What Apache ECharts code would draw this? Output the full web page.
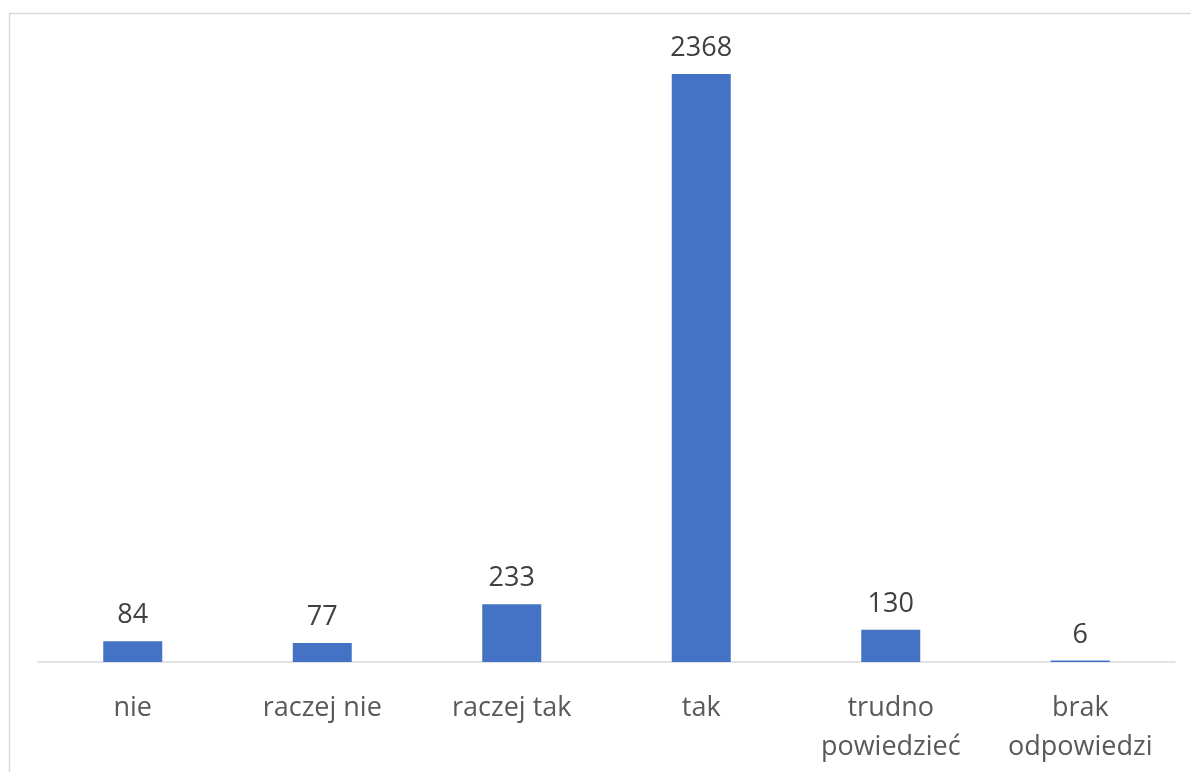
<!DOCTYPE html>
<html>
<head>
<meta charset="utf-8">
<script src="https://cdn.jsdelivr.net/npm/echarts@6/dist/echarts.min.js"></script>
<style>
html,body{margin:0;padding:0;background:#fff;}
#c{width:1191px;height:772px;}
</style>
</head>
<body>
<div id="c"></div>
<script>
const categories = ['nie', 'raczej nie', 'raczej tak', 'tak', 'trudno\npowiedzieć', 'brak\nodpowiedzi'];
const values = [84, 77, 233, 2368, 130, 6];

const chart = echarts.init(document.getElementById('c'), null, {renderer: 'canvas'});
const FONT = '"Open Sans", "Noto Sans", sans-serif';
chart.setOption({
  animation: false,
  backgroundColor: '#ffffff',
  graphic: [{
    type: 'rect',
    shape: {x: 9.5, y: 13.5, width: 1200, height: 800},
    style: {fill: 'none', stroke: '#d9d9d9', lineWidth: 1.5},
    silent: true
  }],
  grid: {left: 38, right: 16, top: 41.2, bottom: 110, containLabel: false},
  xAxis: {
    type: 'category',
    data: categories,
    axisLine: {show: true, lineStyle: {color: '#d9d9d9', width: 1.5}},
    axisTick: {show: false},
    axisLabel: {
      color: '#595959',
      fontFamily: FONT,
      fontSize: 27,
      lineHeight: 39,
      margin: 27,
      interval: 0
    }
  },
  yAxis: {
    type: 'value',
    min: 0,
    max: 2500,
    show: false,
    splitLine: {show: false}
  },
  series: [{
    type: 'bar',
    data: values,
    barWidth: 59,
    itemStyle: {color: '#4472C4'},
    label: {
      show: true,
      position: 'top',
      distance: 12,
      color: '#404040',
      fontFamily: FONT,
      fontSize: 27
    }
  }]
});
</script>
</body>
</html>
